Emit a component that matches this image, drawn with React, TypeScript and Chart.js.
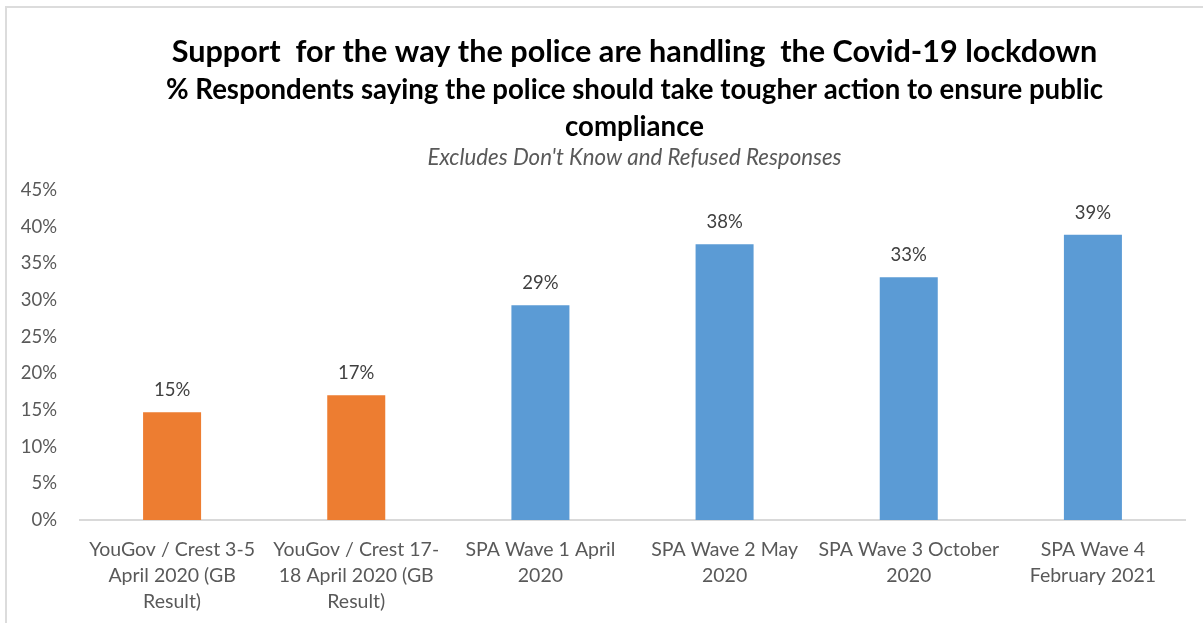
import React, { useEffect, useRef } from 'react';
import { Chart, registerables } from 'chart.js';

Chart.register(...registerables);

const categories: string[][] = [
  ['YouGov / Crest 3-5', 'April 2020 (GB', 'Result)'],
  ['YouGov / Crest 17-', '18 April 2020 (GB', 'Result)'],
  ['SPA Wave 1 April', '2020'],
  ['SPA Wave 2 May', '2020'],
  ['SPA Wave 3 October', '2020'],
  ['SPA Wave 4', 'February 2021'],
];
const values: number[] = [14.7, 17.0, 29.3, 37.6, 33.1, 38.9];
const dataLabels: string[] = ['15%', '17%', '29%', '38%', '33%', '39%'];
const sources: string[] = ['YouGov', 'YouGov', 'SPA', 'SPA', 'SPA', 'SPA'];
const yMin = 0;
const yMax = 45;
const yStep = 5;

const titleText = 'Support  for the way the police are handling  the Covid-19 lockdown';
const subtitleLines: string[] = [
  '% Respondents saying the police should take tougher action to ensure public',
  'compliance',
];
const noteText = "Excludes Don't Know and Refused Responses";

const sourceColors: Record<string, string> = { YouGov: '#ED7D31', SPA: '#5B9BD5' };
const FONT = 'Lato, "Open Sans", sans-serif';

const titlePlugin = {
  id: 'titleBlock',
  afterDraw(chart: any) {
    const { ctx, chartArea } = chart;
    const cx = (chartArea.left + chartArea.right) / 2 + 2;
    ctx.save();
    ctx.textAlign = 'center';
    ctx.textBaseline = 'middle';
    ctx.fillStyle = '#000000';
    ctx.font = `bold 30.6px ${FONT}`;
    ctx.fillText(titleText, cx, 52);
    ctx.font = `bold 27.6px ${FONT}`;
    ctx.fillText(subtitleLines[0], cx, 90);
    ctx.fillText(subtitleLines[1], cx, 127);
    ctx.fillStyle = '#595959';
    ctx.font = `italic 22.3px ${FONT}`;
    ctx.fillText(noteText, cx, 158);
    ctx.restore();
  },
};

const valueLabelPlugin = {
  id: 'valueLabels',
  afterDatasetsDraw(chart: any) {
    const { ctx } = chart;
    const meta = chart.getDatasetMeta(0);
    ctx.save();
    ctx.textAlign = 'center';
    ctx.textBaseline = 'middle';
    ctx.fillStyle = '#404040';
    ctx.font = `18.5px ${FONT}`;
    meta.data.forEach((el: any, i: number) => {
      ctx.fillText(dataLabels[i], el.x, el.y - 22);
    });
    ctx.restore();
  },
};

export default function App() {
  const canvasRef = useRef<HTMLCanvasElement | null>(null);

  useEffect(() => {
    if (!canvasRef.current) return;
    const chart = new Chart(canvasRef.current, {
      type: 'bar',
      data: {
        labels: categories,
        datasets: [
          {
            data: values,
            backgroundColor: sources.map((s) => sourceColors[s]),
            borderWidth: 0,
            barPercentage: 0.315,
            categoryPercentage: 1,
          },
        ],
      },
      options: {
        animation: false,
        responsive: false,
        maintainAspectRatio: false,
        layout: { padding: { top: 190, right: 18, left: 0, bottom: 0 } },
        plugins: {
          legend: { display: false },
          tooltip: { enabled: false },
          title: { display: false },
        },
        scales: {
          x: {
            grid: { display: false, drawTicks: false },
            border: { display: true, color: '#d9d9d9', width: 2 },
            ticks: {
              color: '#595959',
              font: { family: FONT, size: 19.5, lineHeight: '26px' as any },
              padding: 17,
              maxRotation: 0,
              autoSkip: false,
            },
            afterFit: (s: any) => {
              s.height = 103;
            },
          },
          y: {
            min: yMin,
            max: yMax,
            grid: { display: false, drawTicks: false },
            border: { display: false },
            ticks: {
              stepSize: yStep,
              color: '#595959',
              font: { family: FONT, size: 18.5 },
              padding: 23,
              callback: (v: any) => `${v}%`,
            },
            afterFit: (s: any) => {
              s.width = 80;
            },
          },
        },
      },
      plugins: [titlePlugin, valueLabelPlugin],
    });
    return () => chart.destroy();
  }, []);

  return (
    <div
      style={{
        position: 'fixed',
        left: 0,
        top: 0,
        width: 1203,
        height: 623,
        background: '#ffffff',
        overflow: 'hidden',
      }}
    >
      <div
        style={{
          position: 'absolute',
          left: 5,
          top: 6,
          width: 1300,
          height: 700,
          borderLeft: '2px solid #dcdcdc',
          borderTop: '2px solid #dcdcdc',
        }}
      />
      <canvas
        ref={canvasRef}
        width={1203}
        height={623}
        style={{ position: 'absolute', left: 0, top: 0 }}
      />
    </div>
  );
}
